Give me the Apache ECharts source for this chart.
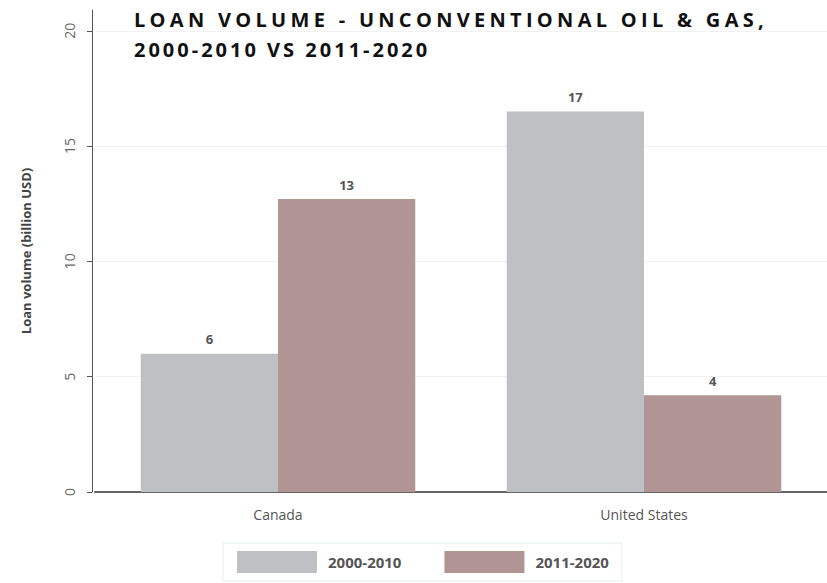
<!DOCTYPE html>
<html>
<head>
<meta charset="utf-8">
<script src="https://cdn.jsdelivr.net/npm/echarts@6/dist/echarts.min.js"></script>
<style>
html,body{margin:0;padding:0;background:#fff;}
#chart{width:827px;height:583px;}
</style>
</head>
<body>
<div id="chart"></div>
<script>
const categories = ['Canada', 'United States'];
const seriesNames = ['2000-2010', '2011-2020'];
const values2000_2010 = [6.0, 16.5];
const values2011_2020 = [12.7, 4.2];
const yTicks = [0, 5, 10, 15, 20];
const titleLines = ['LOAN VOLUME - UNCONVENTIONAL OIL & GAS,', '2000-2010 VS 2011-2020'];

const FONT = '"Open Sans", sans-serif';
const chart = echarts.init(document.getElementById('chart'), null, {renderer: 'svg'});

const labelCfg = {
  show: true, position: 'top', distance: 8,
  fontFamily: FONT, fontSize: 13, fontWeight: 'bold', color: '#555',
  formatter: p => Math.round(p.value)
};

const option = {
  animation: false,
  backgroundColor: '#fff',
  title: {
    text: titleLines.join('\n'),
    left: 134, top: 4, padding: 0,
    textStyle: {fontFamily: FONT, fontSize: 20, fontWeight: 'bold', color: '#111', lineHeight: 30}
  },
  grid: {left: 95, right: 0, top: 10, bottom: 91, containLabel: false},
  legend: {
    data: seriesNames,
    left: 223, top: 543,
    itemWidth: 80, itemHeight: 22, itemGap: 43,
    padding: [8, 13, 8, 14],
    borderColor: '#e6eef0', borderWidth: 1,
    icon: 'rect',
    textStyle: {fontFamily: FONT, fontSize: 15, fontWeight: 'bold', color: '#555', padding: [0, 0, 0, 6]}
  },
  xAxis: {
    type: 'category',
    data: categories,
    axisLine: {show: true, lineStyle: {color: '#666', width: 2}},
    axisTick: {show: false},
    axisLabel: {fontFamily: FONT, fontSize: 14, color: '#555', margin: 15},
    splitLine: {show: false}
  },
  yAxis: {
    type: 'value',
    min: 0, max: 20.9, interval: 5,
    offset: 3,
    name: 'Loan volume (billion USD)',
    nameLocation: 'middle', nameRotate: 90, nameGap: 60,
    nameTextStyle: {fontFamily: FONT, fontSize: 13, fontWeight: 'bold', color: '#444'},
    axisLine: {show: true, lineStyle: {color: '#555', width: 1}},
    axisTick: {show: true, length: 5, lineStyle: {color: '#555'}, customValues: yTicks},
    axisLabel: {fontFamily: FONT, fontSize: 14, color: '#666', rotate: 90, margin: 16, customValues: yTicks,
      formatter: v => String(v)},
    splitLine: {show: true, lineStyle: {color: ['#f2f2f2','#f2f2f2','#f2f2f2','#f2f2f2','#f2f2f2','rgba(0,0,0,0)'], width: 1}}
  },
  series: [
    {name: seriesNames[0], type: 'bar', data: values2000_2010, barGap: '0%', barCategoryGap: '25%',
      itemStyle: {color: '#bfc0c4'}, label: labelCfg},
    {name: seriesNames[1], type: 'bar', data: values2011_2020,
      itemStyle: {color: '#b19494'}, label: labelCfg}
  ]
};
chart.setOption(option);

const spacing = {};
spacing[titleLines[0]] = '4.3px';
spacing[titleLines[1]] = '3px';
function spaceTitle() {
  const texts = document.querySelectorAll('#chart svg text');
  texts.forEach(t => {
    const c = t.textContent;
    if (spacing[c]) {
      t.setAttribute('letter-spacing', spacing[c]);
      t.style.letterSpacing = spacing[c];
    }
  });
}
spaceTitle();
chart.on('finished', spaceTitle);
setTimeout(spaceTitle, 50);
</script>
</body>
</html>
